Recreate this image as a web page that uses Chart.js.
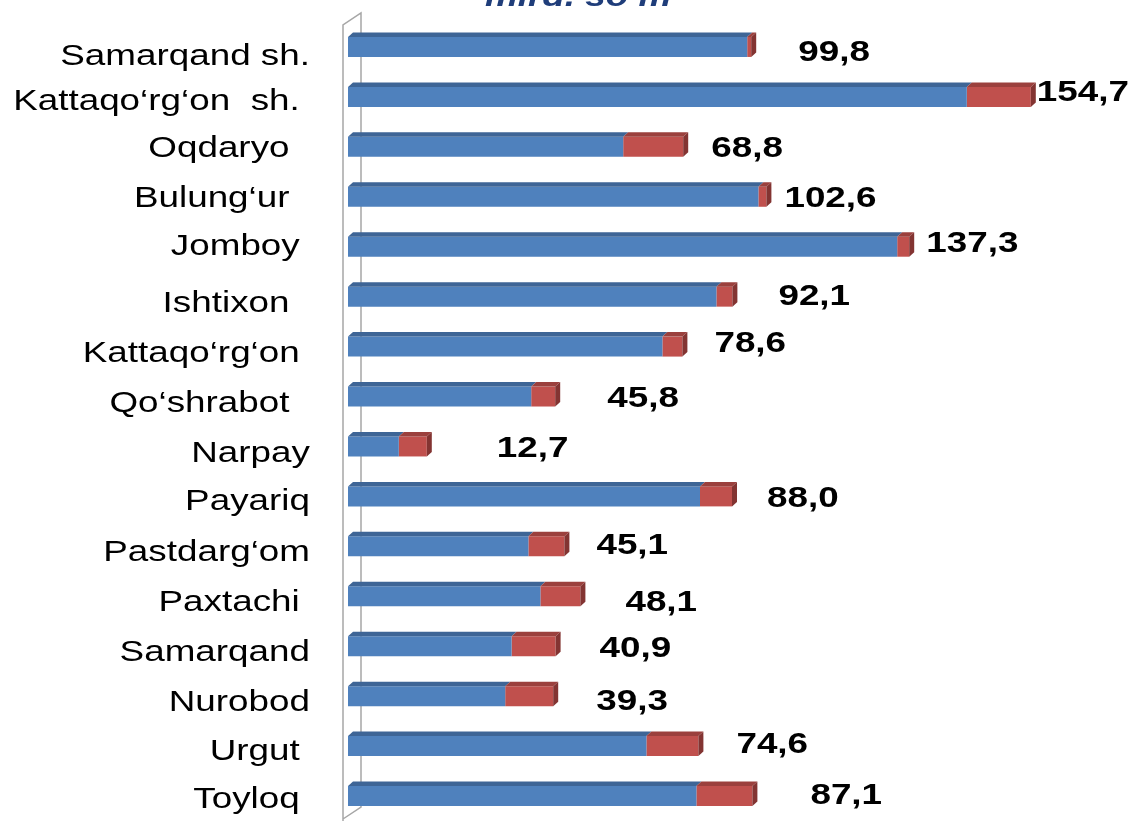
<!DOCTYPE html>
<html>
<head>
<meta charset="utf-8">
<script src="https://cdn.jsdelivr.net/npm/chart.js@4.4.1/dist/chart.umd.min.js"></script>
<style>
  html, body { margin: 0; padding: 0; background: #fff; }
  #wrap { width: 1130px; height: 821px; }
</style>
</head>
<body>
<div id="wrap"><canvas id="chart" width="1130" height="821"></canvas></div>
<script>
// data
const districts = [
  "Samarqand sh.", "Kattaqo‘rg‘on  sh. ", "Oqdaryo  ", "Bulung‘ur  ", "Jomboy ",
  "Ishtixon  ", "Kattaqo‘rg‘on ", "Qo‘shrabot  ", "Narpay", "Payariq",
  "Pastdarg‘om", "Paxtachi ", "Samarqand", "Nurobod", "Urgut ", "Toyloq "
];
const mainValues = [99.8, 154.7, 68.8, 102.6, 137.3, 92.1, 78.6, 45.8, 12.7, 88.0, 45.1, 48.1, 40.9, 39.3, 74.6, 87.1];
const extraValues = [1, 16, 15, 2, 3, 4, 5, 6, 7, 8, 9, 10, 11, 12, 13, 14];
const unitTitle = "mlrd. so‘m";

// hand placed labels in the original (px nudges)
const valueShift = [[47, 4], [6, -6], [28, 0], [18, 0], [17, -5], [46, -2], [32, -5], [52, 0],
                    [70, 0], [35, 0], [32, -3], [45, 4], [44, 0], [43, 3], [38, -3], [58, -2]];
const nameShift = [8, 3, 0, 0, -2, 5, 5, 5, 5, 3, 4, 4, 4, 4, 4, 2];

const FONT = '"Liberation Sans", Arial, sans-serif';
const SX = 1.27; // text in the original is stretched sideways
const frontColors = ["#4F81BD", "#C0504D"];
const topColors = ["#3E6596", "#9B403D"];
const sideColor = "#833432";
const depth = { dx: 5, dy: 4.5 };

function wideText(ctx, text, x, y, align, font, color) {
  ctx.save();
  ctx.font = font;
  ctx.fillStyle = color;
  ctx.textAlign = align;
  ctx.textBaseline = "alphabetic";
  ctx.translate(x, y);
  ctx.scale(SX, 1);
  ctx.fillText(text, 0, 0);
  ctx.restore();
}

function poly(ctx, pts, color) {
  ctx.beginPath();
  ctx.moveTo(pts[0][0], pts[0][1]);
  for (let k = 1; k < pts.length; k++) ctx.lineTo(pts[k][0], pts[k][1]);
  ctx.closePath();
  ctx.fillStyle = color;
  ctx.fill();
}

const wallPlugin = {
  id: "wall",
  beforeDatasetsDraw(chart) {
    const { ctx, chartArea: ca } = chart;
    const l = ca.left - 5, r = ca.left + 13;
    ctx.save();
    ctx.strokeStyle = "#A6A6A6";
    ctx.lineWidth = 1.5;
    ctx.beginPath();
    ctx.moveTo(l, chart.height + 2);
    ctx.lineTo(l, ca.top + 3);
    ctx.lineTo(r, ca.top - 9);
    ctx.lineTo(r, ca.bottom - 14);
    ctx.lineTo(l, ca.bottom - 2);
    ctx.stroke();
    ctx.restore();
  }
};

const depthPlugin = {
  id: "depth",
  afterDatasetsDraw(chart) {
    const ctx = chart.ctx;
    const metas = chart.getSortedVisibleDatasetMetas();
    metas.forEach((meta, di) => {
      meta.data.forEach((bar) => {
        const { x, y, base, height } = bar.getProps(["x", "y", "base", "height"], true);
        const top = y - height / 2, bottom = y + height / 2;
        poly(ctx, [[base, top], [base + depth.dx, top - depth.dy], [x + depth.dx, top - depth.dy], [x, top]], topColors[di]);
        if (di === metas.length - 1) {
          poly(ctx, [[x, top], [x + depth.dx, top - depth.dy], [x + depth.dx, bottom - depth.dy], [x, bottom]], sideColor);
        }
      });
    });
  }
};

const textPlugin = {
  id: "texts",
  afterDraw(chart) {
    const { ctx, chartArea: ca } = chart;
    const xs = chart.scales.x, ys = chart.scales.y;
    const cap = 10.4;
    districts.forEach((name, i) => {
      const yc = ys.getPixelForTick(i);
      wideText(ctx, name, ca.left - 38, yc + nameShift[i] + cap, "right", "29px " + FONT, "#000");
      const end = xs.getPixelForValue(mainValues[i] + extraValues[i]);
      const txt = mainValues[i].toFixed(1).replace(".", ",");
      wideText(ctx, txt, end + valueShift[i][0], yc + valueShift[i][1] + cap, "left", "bold 29px " + FONT, "#000");
    });
    wideText(ctx, unitTitle, ca.left + 137, ca.top - 16, "left", "italic bold 29px " + FONT, "#1F3D7A");
  }
};

new Chart(document.getElementById("chart"), {
  type: "bar",
  data: {
    labels: districts,
    datasets: [
      { label: "main", data: mainValues, backgroundColor: frontColors[0], borderWidth: 0 },
      { label: "extra", data: extraValues, backgroundColor: frontColors[1], borderWidth: 0 }
    ]
  },
  options: {
    indexAxis: "y",
    responsive: false,
    animation: false,
    layout: { padding: { top: 22, right: 0, bottom: 0, left: 0 } },
    datasets: { bar: { categoryPercentage: 1, barPercentage: 0.4 } },
    plugins: { legend: { display: false }, tooltip: { enabled: false } },
    scales: {
      x: { stacked: true, min: 0, max: 195.5, display: false },
      y: {
        stacked: true,
        grid: { display: false },
        border: { display: false },
        ticks: { display: false },
        afterFit(scale) { scale.width = 348; }
      }
    }
  },
  plugins: [wallPlugin, depthPlugin, textPlugin]
});
</script>
</body>
</html>
